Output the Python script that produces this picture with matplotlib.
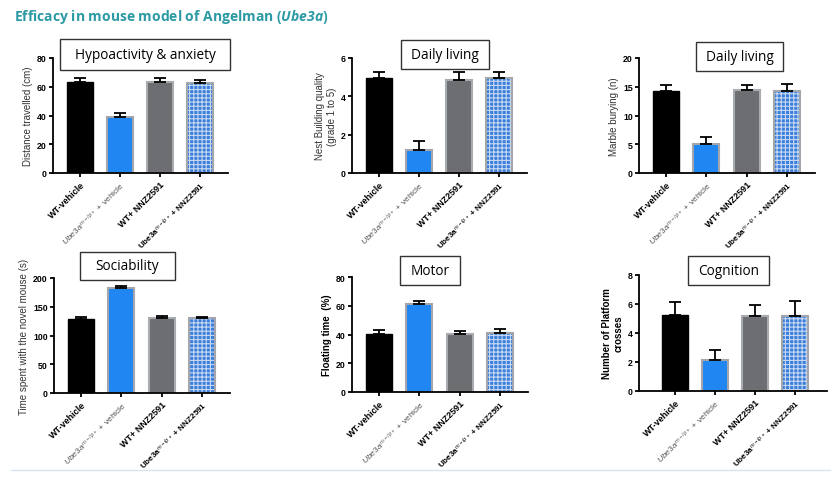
import numpy as np
import matplotlib
matplotlib.use('Agg')
import matplotlib.pyplot as plt
from matplotlib.patches import Rectangle
from matplotlib.lines import Line2D

plt.rcParams['font.family'] = ['Liberation Sans', 'DejaVu Sans']
plt.rcParams['mathtext.fontset'] = 'custom'
plt.rcParams['mathtext.rm'] = 'Liberation Sans'
plt.rcParams['mathtext.it'] = 'Liberation Sans:italic'
plt.rcParams['mathtext.bf'] = 'Liberation Sans:bold'
plt.rcParams['mathtext.bfit'] = 'Open Sans:italic:bold'
plt.rcParams['hatch.linewidth'] = 0.8

# group labels (x axis)
groups = ['WT-vehicle',
          r'$\mathit{Ube3a}^{\mathit{m-/p+}}$ + vehicle',
          'WT+ NNZ2591',
          r'$\mathbf{Ube3a}^{\mathit{m-/p+}}$ + NNZ2591']

# panel data: mean and upper error (SEM)
hypo_mean = [63.5, 38.7, 63.5, 62.4]
hypo_err = [2.4, 3.3, 2.4, 2.5]
nest_mean = [4.94, 1.2, 4.83, 4.94]
nest_err = [0.31, 0.45, 0.42, 0.31]
marble_mean = [14.2, 5.1, 14.5, 14.2]
marble_err = [1.15, 1.2, 0.85, 1.3]
social_mean = [128.7, 182.6, 129.9, 129.9]
social_err = [3.3, 2.9, 3.4, 2.9]
motor_mean = [40.1, 61.2, 40.3, 40.8]
motor_err = [3.0, 1.9, 2.4, 3.0]
cog_mean = [5.26, 2.12, 5.14, 5.19]
cog_err = [0.85, 0.72, 0.81, 0.99]

titles = ['Hypoactivity & anxiety', 'Daily living', 'Daily living',
          'Sociability', 'Motor', 'Cognition']
ylabels = ['Distance travelled (cm)', 'Nest Building quality\n(grade 1 to 5)',
           'Marble burying (n)', 'Time spent with the novel mouse (s)',
           'Floating time  (%)', 'Number of Platform\ncrosses']
yticks = [[0, 20, 40, 60, 80], [0, 2, 4, 6], [0, 5, 10, 15, 20],
          [0, 50, 100, 150, 200], [0, 20, 40, 60, 80], [0, 2, 4, 6, 8]]
means = [hypo_mean, nest_mean, marble_mean, social_mean, motor_mean, cog_mean]
errs = [hypo_err, nest_err, marble_err, social_err, motor_err, cog_err]
bold_ylabel = [False, False, False, False, True, True]

W, H = 835, 489
fig = plt.figure(figsize=(W / 100, H / 100), dpi=100)

# axes boxes in pixels: left, top, right, bottom
ax_px = [(53, 59, 228, 174), (352, 59, 527, 174), (639, 59, 815, 174),
         (54, 279, 230, 394), (352, 278, 528, 393), (639, 276, 827, 392)]
xlims = [(-0.675, 3.7)] * 5 + [(-0.9, 3.8)]
box_px = [(60, 40, 230, 71), (401, 41, 489, 70), (696, 43, 783, 72),
          (80, 253, 175, 281), (400, 257, 460, 286), (688, 257, 769, 286)]

x = np.arange(4)
for i in range(6):
    l, t, r, b = ax_px[i]
    ax = fig.add_axes([l / W, 1 - b / H, (r - l) / W, (b - t) / H])
    m = means[i]
    ax.bar(x[0], m[0], 0.65, color='black', edgecolor='black', lw=1)
    ax.bar(x[1], m[1], 0.65, color='#1f86f2', edgecolor='#a3a7ad', lw=1.5)
    ax.bar(x[2], m[2], 0.65, color='#6d6e71', edgecolor='#a8abb0', lw=1.5)
    ax.bar(x[3], m[3], 0.65, color='#3a7fdc', edgecolor='#c8d8f0',
           hatch='++++', lw=0)
    ax.bar(x[3], m[3], 0.65, fill=False, edgecolor='#a3a7ad', lw=1.5)
    ax.errorbar(x, m, yerr=[np.zeros(4), errs[i]], fmt='none', ecolor='black',
                capsize=4.5, elinewidth=1.3, capthick=1.3, zorder=1)
    ax.set_xlim(*xlims[i])
    ax.set_ylim(0, yticks[i][-1])
    ax.set_yticks(yticks[i])
    ax.set_yticklabels([str(v) for v in yticks[i]], fontsize=6.3, fontweight='bold')
    ax.set_xticks(x)
    ax.set_xticklabels(groups, fontsize=6.5, rotation=45, ha='right',
                       rotation_mode='anchor', fontweight='bold')
    labs = ax.get_xticklabels()
    labs[1].set_fontweight('normal')
    labs[1].set_color('#555555')
    labs[1].set_fontsize(6.1)
    labs[3].set_fontsize(5.9)
    ax.set_ylabel(ylabels[i], fontsize=7,
                  fontweight='bold' if bold_ylabel[i] else 'normal',
                  color='black' if bold_ylabel[i] else '#333333', labelpad=3)
    for s in ['top', 'right']:
        ax.spines[s].set_visible(False)
    for s in ['left', 'bottom']:
        ax.spines[s].set_linewidth(1.3)
    ax.tick_params(length=3, width=1.3, pad=1.5)

    bl, bt, br, bb = box_px[i]
    fig.add_artist(Rectangle((bl / W, 1 - bb / H), (br - bl) / W, (bb - bt) / H,
                             transform=fig.transFigure, facecolor='white',
                             edgecolor='#333333', lw=1, zorder=5))
    fig.text((bl + br) / 2 / W, 1 - (bt + bb) / 2 / H, titles[i], fontsize=9.8,
             family=['Open Sans', 'DejaVu Sans'], ha='center', va='center',
             zorder=6)

fig.text(14 / W, 1 - 17 / H,
         r'Efficacy in mouse model of Angelman ($\mathbfit{Ube3a}$)',
         fontsize=10, fontweight='bold', color='#2b9aa5',
         family=['Open Sans', 'DejaVu Sans'], va='center')
fig.add_artist(Line2D([11 / W, 830 / W], [1 - 471 / H] * 2,
                      transform=fig.transFigure, color='#d8e4f2', lw=1))

fig.savefig('out.png', dpi=100)
